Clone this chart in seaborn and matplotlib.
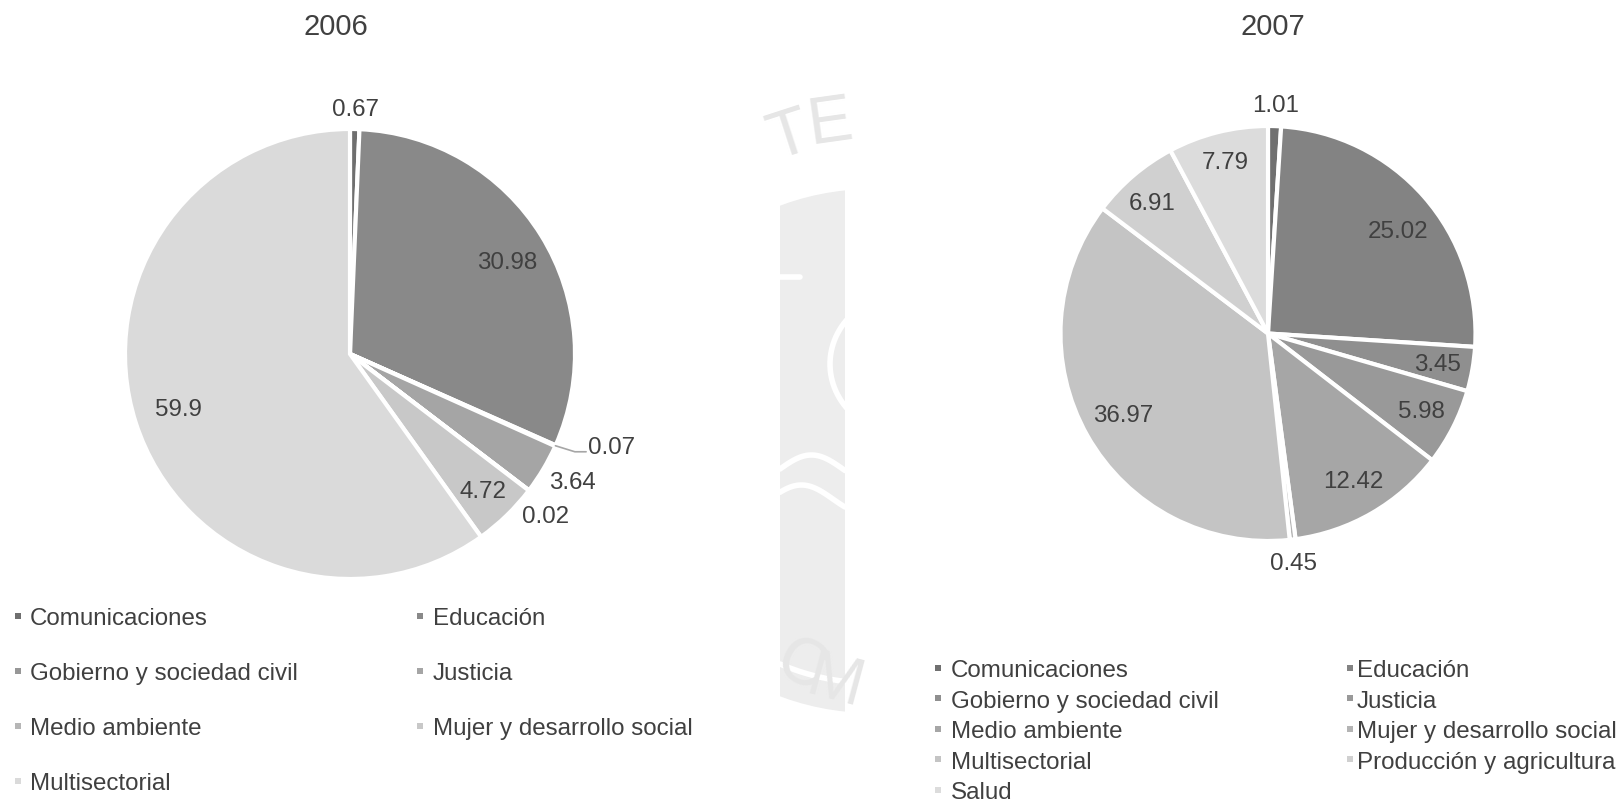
import numpy as np
import matplotlib
matplotlib.use("Agg")
import matplotlib.pyplot as plt
from matplotlib.patches import Rectangle, Circle
import seaborn as sns

# ---- data ----
cats_2006 = ["Comunicaciones", "Educación", "Gobierno y sociedad civil", "Justicia",
             "Medio ambiente", "Mujer y desarrollo social", "Multisectorial"]
vals_2006 = [0.67, 30.98, 0.07, 3.64, 0.02, 4.72, 59.9]

cats_2007 = ["Comunicaciones", "Educación", "Gobierno y sociedad civil", "Justicia",
             "Medio ambiente", "Mujer y desarrollo social", "Multisectorial",
             "Producción y agricultura", "Salud"]
vals_2007 = [1.01, 25.02, 3.45, 5.98, 12.42, 0.45, 36.97, 6.91, 7.79]

greys_2006 = ["#6f6f6f", "#898989", "#979797", "#a5a5a5", "#b6b6b6", "#c8c8c8", "#dadada"]
greys_2007 = ["#707070", "#838383", "#8f8f8f", "#999999", "#a6a6a6", "#b4b4b4",
              "#c4c4c4", "#d0d0d0", "#dcdcdc"]

# label placement: radial factor and angular nudge (degrees) per slice
lab_r_2006 = [1.09, 0.81, 1.235, 1.14, 1.13, 0.85, 0.80]
lab_d_2006 = [0.0, 1.4, -4.6, -0.8, 2.3, 0.0, 0.0]
lab_r_2007 = [1.10, 0.80, 0.83, 0.83, 0.82, 1.113, 0.80, 0.84, 0.85]
lab_d_2007 = [0.0, 3.0, 0.3, 0.0, 0.0, 0.6, 0.0, -1.0, 0.0]

sns.set_theme(style="white")
plt.rcParams["font.family"] = ["Liberation Sans", "DejaVu Sans"]
TXT = "#404040"
FS = 17.4

W, H = 1619, 804
fig = plt.figure(figsize=(W / 100, H / 100), dpi=100)
fig.patch.set_facecolor("white")

# background overlay in pixel coordinates
bg = fig.add_axes([0, 0, 1, 1], zorder=0)
bg.set_xlim(0, W)
bg.set_ylim(H, 0)
bg.axis("off")

# faint seal visible in the gap between the two charts
clip = Rectangle((780, 0), 65, H, transform=bg.transData, facecolor="none", edgecolor="none")
bg.add_patch(clip)
wm = "#ededed"
scx, scy, sr = 872, 452, 262
disk = Circle((scx, scy), sr, facecolor=wm, edgecolor="none")
bg.add_patch(disk)
disk.set_clip_path(clip)
xs = np.linspace(780, 845, 60)
# white details inside the seal
details = [
    (xs, scy + np.sqrt(232 ** 2 - (xs - scx) ** 2)),
    (xs, 470 - 14 * np.sin((xs - 780) / 20)),
    (xs, 500 - 14 * np.sin((xs - 770) / 20)),
    (np.linspace(780, 800, 10), np.full(10, 278)),
]
for dx_, dy_ in details:
    ln, = bg.plot(dx_, dy_, color="white", lw=4, solid_capstyle="round")
    ln.set_clip_path(clip)
th = np.linspace(-np.pi / 2, np.pi / 2, 60)
ln, = bg.plot(905 - 75 * np.cos(th), 365 + 70 * np.sin(th), color="white", lw=4)
ln.set_clip_path(clip)
for txt, (tx, ty, rot) in {"T": (790, 138, 18), "E": (830, 124, 8),
                           "C": (800, 668, -30), "M": (835, 684, -15)}.items():
    t = bg.text(tx, ty, txt, fontsize=48, color="#e6e6e6",
                rotation=rot, ha="center", va="center")
    t.set_clip_path(clip)


def draw_pie(cx, cy, R, vals, colors, lab_r, lab_d, leader=None):
    ax = fig.add_axes([(cx - R) / W, 1 - (cy + R) / H, 2 * R / W, 2 * R / H], zorder=2)
    ax.pie(vals, colors=colors, startangle=90, counterclock=False, radius=1,
           wedgeprops=dict(edgecolor="white", linewidth=3))
    ax.set_xlim(-1, 1)
    ax.set_ylim(-1, 1)
    ax.axis("off")
    total = sum(vals)
    cum = np.cumsum([0] + list(vals[:-1]))
    for i, v in enumerate(vals):
        mid = (cum[i] + v / 2) / total * 360
        a = np.deg2rad(mid + lab_d[i])
        x, y = lab_r[i] * np.sin(a), lab_r[i] * np.cos(a)
        ax.text(x, y, f"{v:g}", ha="center", va="center", fontsize=FS,
                color=TXT, clip_on=False)
        if leader is not None and i == leader:
            m = np.deg2rad(mid)
            ex, ey = np.sin(m), np.cos(m)
            left = x - 0.11
            ly = y - 0.023
            ax.plot([ex, left - 0.055, left - 0.005], [ey, ly, ly],
                    color="#a6a6a6", lw=1.2, clip_on=False)
    return ax


draw_pie(350, 355, 225, vals_2006, greys_2006, lab_r_2006, lab_d_2006, leader=2)
draw_pie(1268, 334.5, 207.5, vals_2007, greys_2007, lab_r_2007, lab_d_2007)

# titles
bg.text(336, 27, "2006", ha="center", va="center", fontsize=21, color=TXT)
bg.text(1273, 27, "2007", ha="center", va="center", fontsize=21, color=TXT)


def draw_legend(cats, colors, mx, tx, y0, dy):
    for i, (c, col) in enumerate(zip(cats, colors)):
        r, k = divmod(i, 2)
        y = y0 + r * dy
        bg.add_patch(Rectangle((mx[k] - 3, y - 3), 6, 6, facecolor=col, edgecolor="none"))
        bg.text(tx[k], y + 8.5, c, ha="left", va="baseline", fontsize=FS, color=TXT)


draw_legend(cats_2006, greys_2006, (18, 420), (30, 433), 617, 55)
draw_legend(cats_2007, greys_2007, (938, 1350), (951, 1357), 669, 30.4)

fig.savefig("out.png", dpi=100, facecolor="white")
